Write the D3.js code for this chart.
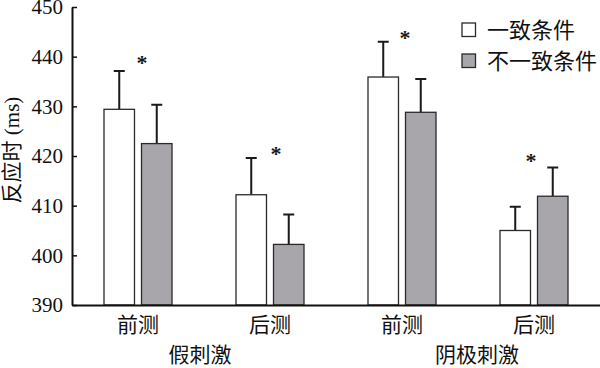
<!DOCTYPE html>
<html>
<head>
<meta charset="utf-8">
<script src="https://cdn.jsdelivr.net/npm/d3@7"></script>
<style>
  html, body { margin: 0; padding: 0; background: #fff; }
  svg { display: block; }
  .serif { font-family: "Liberation Serif", "Times New Roman", Times, "DejaVu Serif", "Noto Sans CJK SC", serif; }
  .cjk { font-family: "Noto Sans CJK SC", "Liberation Serif", sans-serif; }
</style>
</head>
<body>
<svg id="chart" width="600" height="368"></svg>
<script>
const phases = ["前测", "后测", "前测", "后测"];
const groupIds = ["g1", "g2", "g3", "g4"];
const stimGroups = ["假刺激", "阴极刺激"];
const seriesNames = ["一致条件", "不一致条件"];
const congruent = [429.4, 412.2, 435.9, 405.0];
const congruentErr = [7.7, 7.4, 7.1, 4.8];
const incongruent = [422.5, 402.2, 428.8, 411.9];
const incongruentErr = [7.8, 6.0, 6.7, 5.8];
const starValues = [440.1, 421.7, 445.0, 420.4];
const yTicks = [390, 400, 410, 420, 430, 440, 450];

(function () {
const svg = d3.select("#chart");

const mLeft = 72, mRight = 600, mTop = 7, mBottom = 305;
const x0 = d3.scaleBand().domain(groupIds).range([mLeft, mRight]).paddingInner(0).paddingOuter(0);
const x1 = d3.scaleBand().domain(seriesNames).range([-34, 34]).paddingInner(0.187).paddingOuter(0);
const y = d3.scaleLinear().domain([390, 450]).range([mBottom, mTop]);
const fills = ["#ffffff", "#a8a6ab"];

const data = groupIds.map((g, i) => ({
  g, i,
  vals: [
    { s: seriesNames[0], v: congruent[i], e: congruentErr[i], k: 0 },
    { s: seriesNames[1], v: incongruent[i], e: incongruentErr[i], k: 1 }
  ]
}));

const groups = svg.selectAll("g.grp").data(data).enter().append("g")
  .attr("class", "grp")
  .attr("transform", d => `translate(${x0(d.g) + x0.bandwidth() / 2},0)`);

groups.selectAll("path.err").data(d => d.vals).enter().append("path")
  .attr("class", "err")
  .attr("d", d => {
    const cx = x1(d.s) + x1.bandwidth() / 2;
    const yt = y(d.v + d.e);
    return `M${cx},${y(d.v)}V${yt}M${cx - 5.5},${yt}H${cx + 5.5}`;
  })
  .attr("stroke", "#1a1a1a").attr("stroke-width", 2).attr("fill", "none");

groups.selectAll("rect").data(d => d.vals).enter().append("rect")
  .attr("x", d => x1(d.s))
  .attr("width", x1.bandwidth())
  .attr("y", d => y(d.v))
  .attr("height", d => y(390) - y(d.v))
  .attr("fill", d => fills[d.k])
  .attr("stroke", "#2a2a2a").attr("stroke-width", 1.3);

const starDx = [4, 6, 3, -3];
groups.append("text")
  .attr("class", "serif")
  .attr("x", d => starDx[d.i])
  .attr("y", d => y(starValues[d.i]))
  .attr("dy", "0.62em")
  .attr("text-anchor", "middle")
  .style("font-size", "22px").style("font-weight", "bold")
  .attr("fill", "#1a1a1a")
  .text("*");

const yAxis = d3.axisLeft(y).tickValues(yTicks).tickSizeInner(-5).tickSizeOuter(0).tickPadding(9);
const ya = svg.append("g").attr("transform", `translate(${mLeft},0)`).call(yAxis);
ya.attr("font-family", null).attr("font-size", null);
ya.select(".domain").attr("stroke", "#111").attr("stroke-width", 2);
ya.selectAll(".tick line").attr("stroke", "#111").attr("stroke-width", 1.5);
ya.selectAll(".tick text").attr("class", "serif").style("font-size", "21px").attr("fill", "#111");

const xAxis = d3.axisBottom(x0).tickSize(0).tickPadding(12).tickFormat((d, i) => phases[i]);
const xa = svg.append("g").attr("transform", `translate(0,${mBottom})`).call(xAxis);
xa.attr("font-family", null).attr("font-size", null);
xa.select(".domain").attr("stroke", "#111").attr("stroke-width", 2);
xa.selectAll(".tick text").attr("class", "cjk").style("font-size", "21px").attr("fill", "#111");

const stimDx = [-4, 9];
svg.selectAll("text.stim").data(stimGroups).enter().append("text")
  .attr("class", "stim cjk")
  .attr("x", (d, i) => (x0(groupIds[i * 2]) + x0(groupIds[i * 2 + 1]) + x0.bandwidth()) / 2 + stimDx[i])
  .attr("y", 355)
  .attr("dy", "0.35em")
  .attr("text-anchor", "middle")
  .style("font-size", "21px").attr("fill", "#111")
  .text(d => d);

svg.append("text")
  .attr("class", "serif")
  .attr("transform", `translate(12,${(mTop + mBottom) / 2 - 6}) rotate(-90)`)
  .attr("text-anchor", "middle")
  .attr("dy", "0.35em")
  .style("font-size", "21px").attr("fill", "#111")
  .text("反应时 (ms)");

const lg = svg.selectAll("g.leg").data(seriesNames).enter().append("g")
  .attr("class", "leg")
  .attr("transform", (d, i) => `translate(462,${23 + i * 31})`);
lg.append("rect").attr("width", 13.5).attr("height", 13.5)
  .attr("fill", (d, i) => fills[i]).attr("stroke", "#2a2a2a").attr("stroke-width", 1.3);
lg.append("text").attr("class", "cjk").attr("x", 25).attr("y", 7).attr("dy", "0.35em")
  .style("font-size", "22px").attr("fill", "#111")
  .text(d => d);
})();
</script>
</body>
</html>
